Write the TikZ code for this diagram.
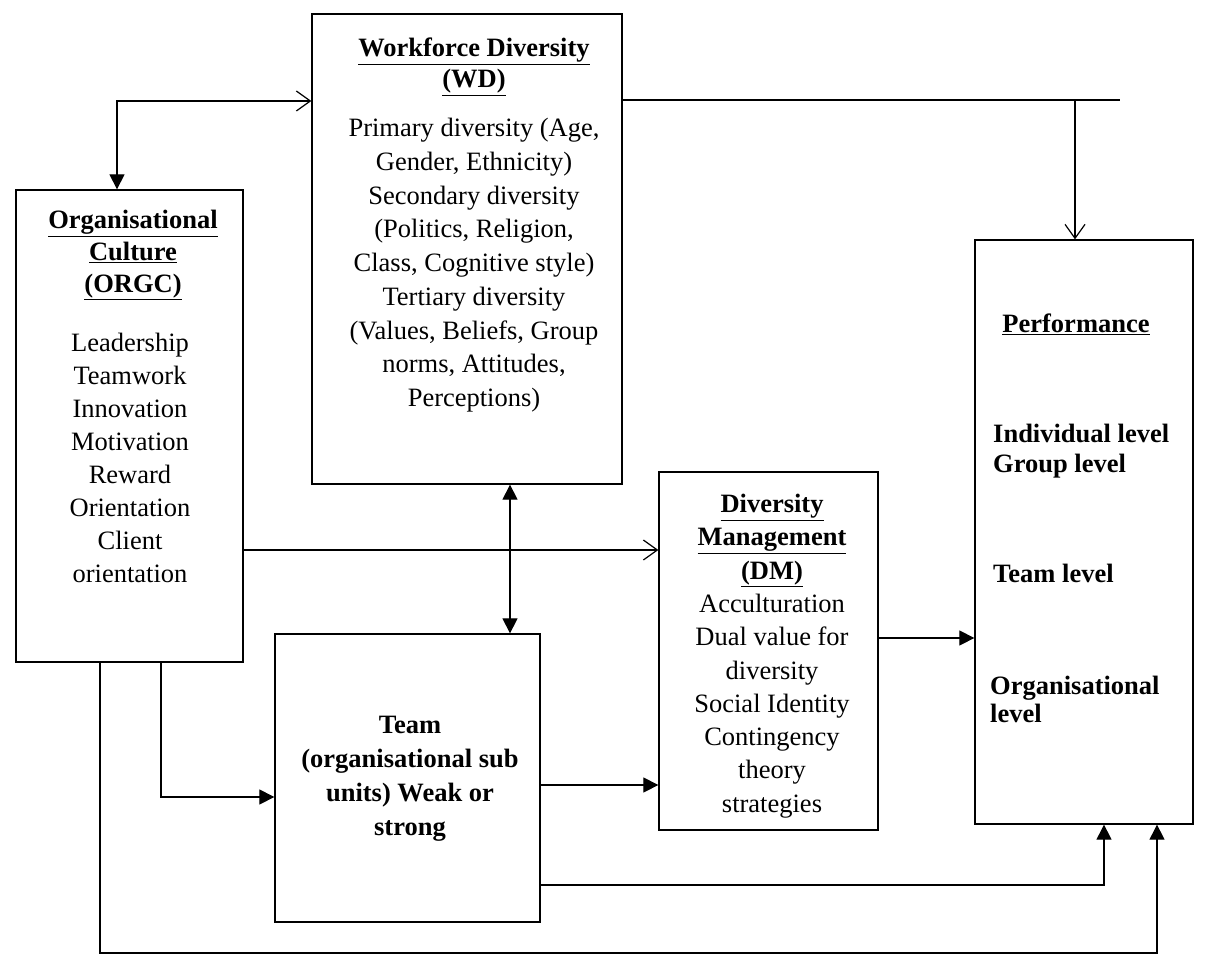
\documentclass[tikz,border=0pt]{standalone}
\usepackage{fontspec}
\setmainfont{Liberation Serif}
\usetikzlibrary{arrows.meta}
\begin{document}
\begin{tikzpicture}[x=1pt,y=-1pt,
  box/.style={draw, line width=1.3pt, inner sep=0pt},
  txt/.style={inner sep=0pt, align=center},
  conn/.style={line width=1.2pt},
  fa/.style={conn, -{Triangle[length=15pt,width=15pt]}},
  oa/.style={conn, -{Straight Barb[length=14pt,width=20pt]}},
  fs/.style={font=\fontsize{26.5}{#1}\selectfont},
  bfs/.style={font=\fontsize{26.5}{#1}\selectfont\bfseries}
]
\useasboundingbox (0,0) rectangle (1206,973);

% boxes
\node[box, minimum width=227pt, minimum height=472pt] (orgc) at (129.5,426) {};
\node[box, minimum width=310pt, minimum height=470pt] (wd) at (467,249) {};
\node[box, minimum width=265pt, minimum height=288pt] (team) at (407.5,778) {};
\node[box, minimum width=219pt, minimum height=358pt] (dm) at (768.5,651) {};
\node[box, minimum width=218pt, minimum height=584pt] (perf) at (1084,532) {};

% texts
\node[txt, bfs=32, anchor=north] (orgct) at (133,210)
  {\underline{Organisational}\\ \underline{Culture}\\ \underline{(ORGC)}};
\node[txt, fs=33, anchor=north] (orgcb) at (130,333)
  {Leadership\\ Teamwork\\ Innovation\\ Motivation\\ Reward\\ Orientation\\ Client\\ orientation};

\node[txt, bfs=31, anchor=north] (wdt) at (474,38)
  {\underline{Workforce Diversity}\\ \underline{(WD)}};
\node[txt, fs=33.75, anchor=north] (wdb) at (474,118)
  {Primary diversity (Age,\\ Gender, Ethnicity)\\ Secondary diversity\\ (Politics, Religion,\\ Class, Cognitive style)\\ Tertiary diversity\\ (Values, Beliefs, Group\\ norms, Attitudes,\\ Perceptions)};

\node[txt, fs=33.3, anchor=north] (dmt) at (772,494)
  {\textbf{\underline{Diversity}}\\ \textbf{\underline{Management}}\\ \textbf{\underline{(DM)}}\\ Acculturation\\ Dual value for\\ diversity\\ Social Identity\\ Contingency\\ theory\\ strategies};

\node[txt, bfs=34, anchor=north] (teamt) at (410,716)
  {Team\\ (organisational sub\\ units) Weak or\\ strong};

\node[txt, bfs=30, anchor=north] (perft) at (1076,314) {\underline{Performance}};
\node[txt, bfs=30, anchor=north west, align=left] (perf1) at (993,424)
  {Individual level\\ Group level};
\node[txt, bfs=30, anchor=north west, align=left] (perf2) at (993,564) {Team level};
\node[txt, bfs=28, anchor=north west, align=left] (perf3) at (990,676)
  {Organisational\\ level};

% connector helper coordinates
\coordinate (c1) at (117,101);
\coordinate (c2) at (1075,100);
\coordinate (c3) at (1120,100);
\coordinate (dx) at (510,560);
\coordinate (r1) at (0,550);
\coordinate (r2) at (0,785);
\coordinate (r3) at (0,638);
\coordinate (b1) at (161,797);
\coordinate (b2) at (100,953);
\coordinate (b3) at (1157,953);
\coordinate (b4) at (1104,885);

% connectors
\draw[conn, {Triangle[length=15pt,width=15pt]}-{Straight Barb[length=14pt,width=20pt]}]
  (c1 |- orgc.north) -- (c1) -- (c1 -| wd.west);
\draw[conn] (wd.east |- c2) -- (c3);
\draw[oa] (c2) -- (c2 |- perf.north);
\draw[conn, {Triangle[length=15pt,width=15pt]}-{Triangle[length=15pt,width=15pt]}]
  (dx |- wd.south) -- (dx |- team.north);
\draw[oa] (orgc.east |- r1) -- (dm.west |- r1);
\draw[fa] (orgc.south -| b1) -- (b1) -- (team.west |- b1);
\draw[fa] (orgc.south -| b2) -- (b2) -- (b3) -- (b3 |- perf.south);
\draw[fa] (team.east |- r2) -- (dm.west |- r2);
\draw[fa] (team.east |- b4) -- (b4) -- (b4 |- perf.south);
\draw[fa] (dm.east |- r3) -- (perf.west |- r3);
\end{tikzpicture}
\end{document}
